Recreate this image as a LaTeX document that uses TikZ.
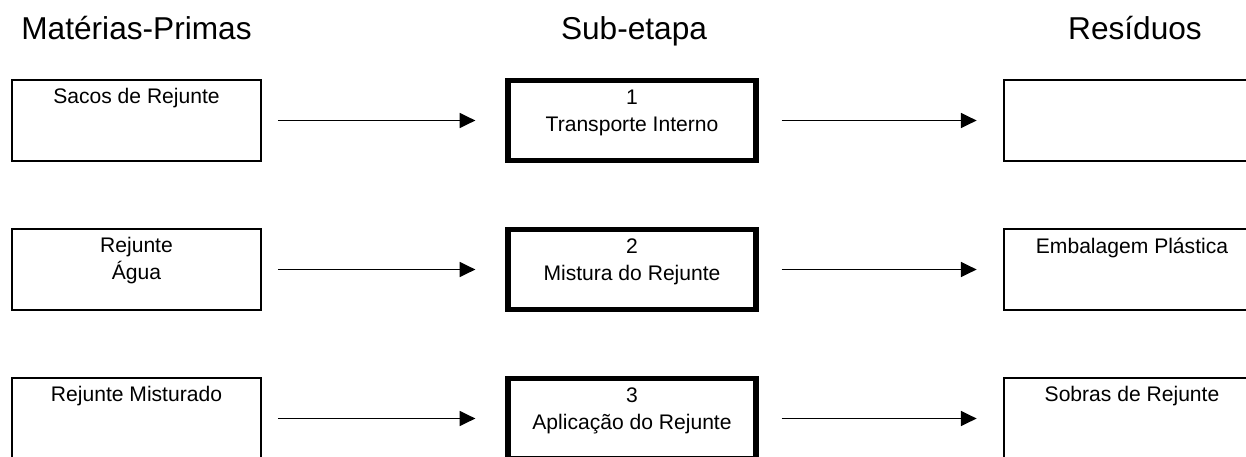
\documentclass[tikz,border=0pt]{standalone}
\usepackage{fontspec}
\setmainfont{Liberation Sans}
\usetikzlibrary{arrows.meta}

\begin{document}
\begin{tikzpicture}[x=0.02cm, y=-0.02cm,
    every node/.style={font=\fontsize{12}{15.3}\selectfont},
    inbox/.style={draw, line width=1pt, minimum width=4.98cm, minimum height=1.62cm, inner sep=0},
    outbox/.style={inbox, minimum width=5.12cm},
    stepbox/.style={draw, line width=3pt, minimum width=4.96cm, minimum height=1.60cm, inner sep=0},
    intext/.style={anchor=north, inner sep=0, align=center, yshift=-0.18cm},
    steptext/.style={anchor=north, inner sep=0, align=center, yshift=-0.23cm},
    head/.style={anchor=base, inner sep=0, font=\fontsize{18}{22}\selectfont},
    flow/.style={line width=1pt, -{Triangle[length=9pt,width=8.5pt]}}]
    \useasboundingbox (0,0) rectangle (1246,456);
    % column titles
    \node[head] (hmp) at (136.5,40) {Matérias-Primas};
    \node[head] (hse) at (634,40) {Sub-etapa};
    \node[head] (hre) at (1135,40) {Resíduos};
    % raw materials
    \node[inbox, label={[intext]north:Sacos de Rejunte}] (mp1) at (136.5,120.5) {};
    \node[inbox, label={[intext]north:{Rejunte\\Água}}] (mp2) at (136.5,269.5) {};
    \node[inbox, label={[intext]north:Rejunte Misturado}] (mp3) at (136.5,418.5) {};
    % sub-steps
    \node[stepbox, label={[steptext]north:{1\\Transporte Interno}}] (se1) at (632,120.5) {};
    \node[stepbox, label={[steptext]north:{2\\Mistura do Rejunte}}] (se2) at (632,269.5) {};
    \node[stepbox, label={[steptext]north:{3\\Aplicação do Rejunte}}] (se3) at (632,418.5) {};
    % residues
    \node[outbox] (re1) at (1132,120.5) {};
    \node[outbox, label={[intext]north:Embalagem Plástica}] (re2) at (1132,269.5) {};
    \node[outbox, label={[intext]north:Sobras de Rejunte}] (re3) at (1132,418.5) {};

    \draw[flow, shorten <=0.32cm, shorten >=0.6cm] (mp1) -- (se1);
    \draw[flow, shorten <=0.32cm, shorten >=0.6cm] (mp2) -- (se2);
    \draw[flow, shorten <=0.32cm, shorten >=0.6cm] (mp3) -- (se3);
    \draw[flow, shorten <=0.46cm, shorten >=0.53cm] (se1) -- (re1);
    \draw[flow, shorten <=0.46cm, shorten >=0.53cm] (se2) -- (re2);
    \draw[flow, shorten <=0.46cm, shorten >=0.53cm] (se3) -- (re3);
\end{tikzpicture}
\end{document}
